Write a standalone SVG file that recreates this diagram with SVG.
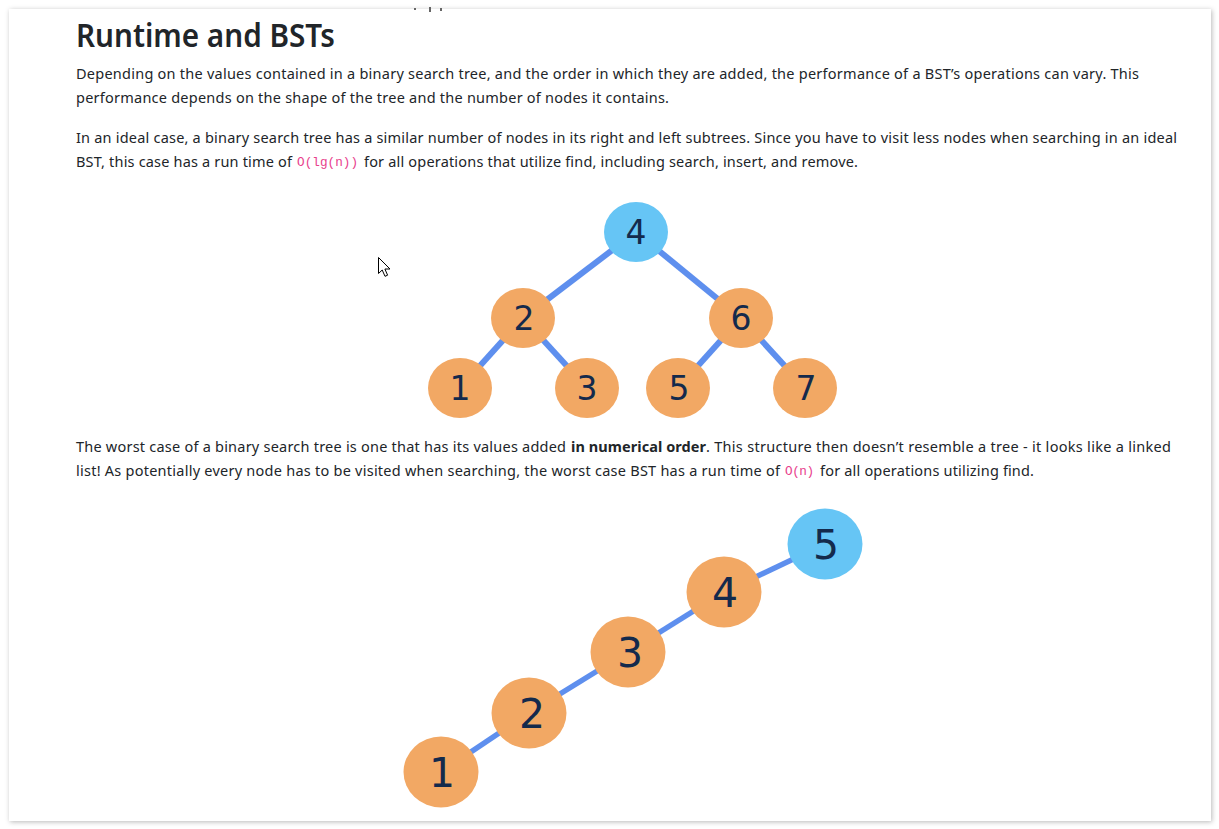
<svg xmlns="http://www.w3.org/2000/svg" width="1219" height="829" viewBox="0 0 1219 829">
<style>
.body{font-family:"Noto Sans","Open Sans","Liberation Sans",sans-serif;font-size:14.5px;fill:#212529}
.title{font-family:"Noto Sans","Open Sans","Liberation Sans",sans-serif;font-size:33px;font-weight:600;fill:#212529}
.code{font-family:"Liberation Mono","DejaVu Sans Mono",monospace;font-size:12.7px;fill:#e83e8c}
.bold{font-weight:700}
.edge{stroke:#5e8fee;stroke-width:6;stroke-linecap:butt}
.edge2{stroke:#5e8fee;stroke-width:5.5}
.leaf{fill:#f2a864}
.root{fill:#66c5f5}
.lbl{font-family:"DejaVu Sans",sans-serif;fill:#142a4c;text-anchor:middle}
.l1{font-size:33px}
.l2{font-size:41px}
</style>
<defs>
<filter id="sh" x="-5%" y="-5%" width="110%" height="110%">
<feDropShadow dx="1" dy="1" stdDeviation="2.5" flood-color="#000" flood-opacity="0.28"/>
</filter>
</defs>
<rect x="0" y="0" width="1219" height="829" fill="#ffffff"/>
<rect x="9" y="9" width="1202" height="812" fill="#ffffff" filter="url(#sh)"/>
<g id="artifact" fill="#666">
<rect x="414" y="8" width="2" height="2"/>
<rect x="429" y="7" width="2" height="5"/>
<rect x="440" y="8" width="2" height="3"/>
</g>
<text class="title" x="76" y="47" textLength="259" lengthAdjust="spacingAndGlyphs">Runtime and BSTs</text>
<g id="para1">
<text class="body" x="76" y="79" textLength="1063">Depending on the values contained in a binary search tree, and the order in which they are added, the performance of a BST’s operations can vary. This</text>
<text class="body" x="76" y="103" textLength="593">performance depends on the shape of the tree and the number of nodes it contains.</text>
</g>
<g id="para2">
<text class="body" x="76" y="143" textLength="1101">In an ideal case, a binary search tree has a similar number of nodes in its right and left subtrees. Since you have to visit less nodes when searching in an ideal</text>
<text class="body" x="76" y="167" textLength="216">BST, this case has a run time of</text>
<text class="code" x="297" y="166" textLength="61">O(lg(n))</text>
<text class="body" x="364" y="167" textLength="494">for all operations that utilize find, including search, insert, and remove.</text>
</g>
<g id="para3">
<text class="body" x="76" y="452" textLength="490">The worst case of a binary search tree is one that has its values added</text>
<text class="body bold" x="571" y="452" textLength="135">in numerical order</text>
<text class="body" x="706" y="452" textLength="465">. This structure then doesn’t resemble a tree - it looks like a linked</text>
<text class="body" x="76" y="476" textLength="704">list! As potentially every node has to be visited when searching, the worst case BST has a run time of</text>
<text class="code" x="785" y="475" textLength="29">O(n)</text>
<text class="body" x="820" y="476" textLength="214">for all operations utilizing find.</text>
</g>
<g id="connectors">
<line class="edge" x1="636" y1="232" x2="523" y2="318"/>
<line class="edge" x1="636" y1="232" x2="741" y2="318"/>
<line class="edge" x1="523" y1="318" x2="460" y2="388"/>
<line class="edge" x1="523" y1="318" x2="587" y2="388"/>
<line class="edge" x1="741" y1="318" x2="678" y2="388"/>
<line class="edge" x1="741" y1="318" x2="805" y2="388"/>
<line class="edge2" x1="441" y1="772" x2="529" y2="713"/>
<line class="edge2" x1="529" y1="713" x2="628" y2="652"/>
<line class="edge2" x1="628" y1="652" x2="724" y2="592"/>
<line class="edge2" x1="724" y1="592" x2="825" y2="544"/>
</g>
<g id="t1n4"><ellipse class="root" cx="636" cy="232" rx="32" ry="30"/><text class="lbl l1" x="636" y="243.5">4</text></g>
<g id="t1n2"><ellipse class="leaf" cx="523" cy="318" rx="32" ry="30"/><text class="lbl l1" x="524" y="330">2</text></g>
<g id="t1n6"><ellipse class="leaf" cx="741" cy="318" rx="32" ry="30"/><text class="lbl l1" x="741" y="330">6</text></g>
<g id="t1n1"><ellipse class="leaf" cx="460" cy="388" rx="32" ry="30"/><text class="lbl l1" x="460" y="400">1</text></g>
<g id="t1n3"><ellipse class="leaf" cx="587" cy="388" rx="32" ry="30"/><text class="lbl l1" x="587" y="400">3</text></g>
<g id="t1n5"><ellipse class="leaf" cx="678" cy="388" rx="32" ry="30"/><text class="lbl l1" x="679" y="400">5</text></g>
<g id="t1n7"><ellipse class="leaf" cx="805" cy="388" rx="32" ry="30"/><text class="lbl l1" x="806" y="400">7</text></g>
<g id="t2n1"><ellipse class="leaf" cx="441" cy="772" rx="37.5" ry="35.5"/><text class="lbl l2" x="442" y="786.5">1</text></g>
<g id="t2n2"><ellipse class="leaf" cx="529" cy="713" rx="37.5" ry="35.5"/><text class="lbl l2" x="532" y="727.5">2</text></g>
<g id="t2n3"><ellipse class="leaf" cx="628" cy="652" rx="37.5" ry="35.5"/><text class="lbl l2" x="630" y="666.5">3</text></g>
<g id="t2n4"><ellipse class="leaf" cx="724" cy="592" rx="37.5" ry="35.5"/><text class="lbl l2" x="725" y="606.5">4</text></g>
<g id="t2n5"><ellipse class="root" cx="825" cy="544" rx="37.5" ry="35.5"/><text class="lbl l2" x="826" y="558.5">5</text></g>
<g id="cursor">
<path d="M378.5,257.5 L378.5,273.5 L382.2,270 L385,276.3 L387.6,275.2 L384.9,269 L390,269 Z" fill="#ffffff" stroke="#000" stroke-width="1" stroke-linejoin="miter"/>
</g>
</svg>
